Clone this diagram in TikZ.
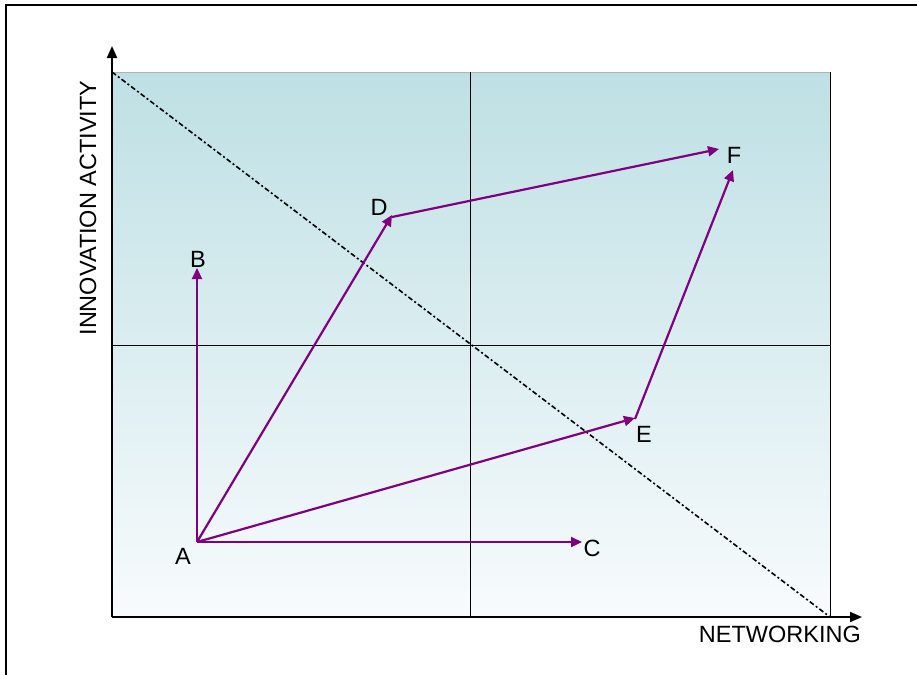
\documentclass[tikz,border=0pt]{standalone}
\usepackage{fontspec}
\setmainfont{Liberation Sans}
\usetikzlibrary{arrows.meta}
\definecolor{topteal}{RGB}{190,224,228}
\definecolor{botwhite}{RGB}{248,251,253}
\definecolor{arrowpurple}{RGB}{128,0,128}
\begin{document}
\begin{tikzpicture}[x=1pt,y=-1pt,
  lbl/.style={font=\fontsize{23.5}{25}\selectfont, inner sep=0pt},
  move/.style={draw=arrowpurple, line width=2.2pt, -{Triangle[length=11pt,width=10pt]}},
  axis/.style={draw=black, line width=2pt, -{Triangle[length=12pt,width=10pt]}},
  grid/.style={draw=black, line width=0.9pt}]
\useasboundingbox (0,0) rectangle (917,675);
\fill[white] (0,0) rectangle (917,675);
% frame
\draw[line width=1.3pt] (6,675) -- (6,5) -- (917,5);
% plot area
\shade[top color=topteal, bottom color=botwhite] (112,72) rectangle (830,617);
\draw[gray!60, line width=1pt] (112,72) -- (830,72);
\draw[grid] (830,72) -- (830,617);
\draw[grid] (470,72) -- (470,617);
\draw[grid] (112,345) -- (830,345);
% diagonal
\draw[line width=1.6pt, dash pattern=on 5pt off 2.5pt on 2pt off 2.5pt] (112,72) -- (830,617);
% axes
\coordinate (O) at (112,617);
\coordinate (Xend) at (862,617);
\coordinate (Yend) at (112,46);
\draw[axis] (O) -- (Xend);
\draw[axis] (O) -- (Yend);
\node[lbl, anchor=north east] (xl) at (861,626) {NETWORKING};
\node[lbl, rotate=90] (yl) at (88,208) {INNOVATION ACTIVITY};
% points
\coordinate (A) at (197,542);
\coordinate (Bt) at (197,268);
\coordinate (Ct) at (582,542);
\coordinate (Dt) at (392,215);
\coordinate (Ds) at (392,217);
\coordinate (Et) at (635,418);
\coordinate (Es) at (635,419);
\coordinate (Ft1) at (719,149);
\coordinate (Ft2) at (733,170);
\draw[move] (A) -- (Bt);
\draw[move] (A) -- (Ct);
\draw[move] (A) -- (Dt);
\draw[move] (A) -- (Et);
\draw[move] (Ds) -- (Ft1);
\draw[move] (Es) -- (Ft2);
% labels
\node[lbl] (la) at (183,556) {A};
\node[lbl] (lb) at (198,259) {B};
\node[lbl] (lc) at (592,548) {C};
\node[lbl] (ld) at (379,207) {D};
\node[lbl] (le) at (644,434) {E};
\node[lbl] (lf) at (734,155) {F};
\end{tikzpicture}
\end{document}
